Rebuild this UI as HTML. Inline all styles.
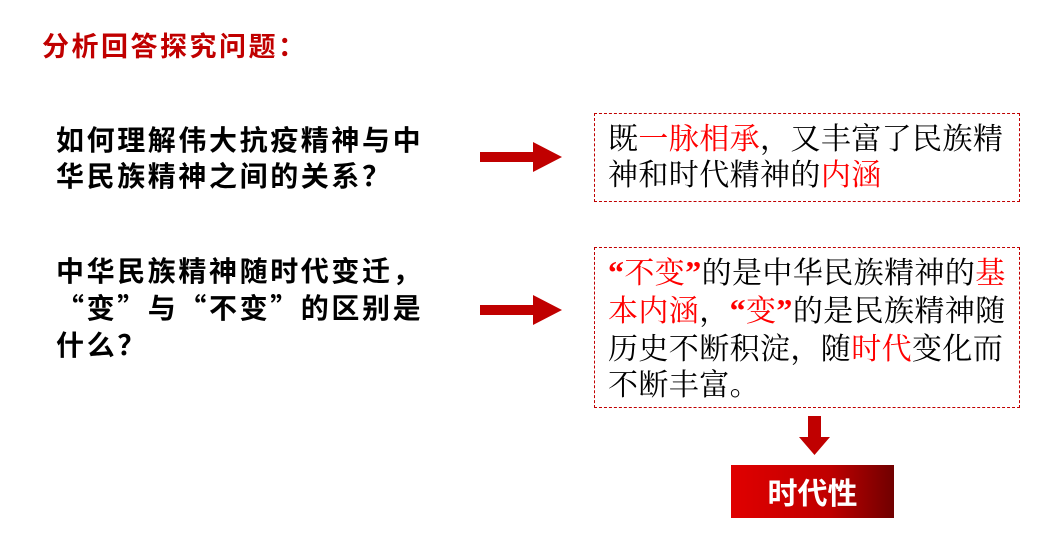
<!DOCTYPE html>
<html><head><meta charset="utf-8"><style>
body{margin:0;width:1043px;height:536px;background:#fff;position:relative;overflow:hidden}
.a{position:absolute;white-space:nowrap}
.t{font-family:"Noto Sans CJK SC",sans-serif;font-weight:bold}
.q{font-family:"Noto Sans CJK SC",sans-serif;font-weight:bold;font-size:28px;letter-spacing:2.6px;line-height:36px;color:#000;left:56px}
.box{border:1px dashed #c00000;font-family:"Noto Serif CJK SC","WenQuanYi Zen Hei",serif;font-size:30px;letter-spacing:0.4px;line-height:36px;color:#000;left:594px;width:411px;padding:4px 0 0 13px}
.r{color:#f00}
.b{color:#f00;font-weight:bold;font-family:"Liberation Serif",serif;font-size:32px}
</style></head><body>
<div class="a t" style="left:42px;top:25px;font-size:27px;letter-spacing:2.5px;color:#c00000">分析回答探究问题：</div>
<div class="a q" style="top:121px">如何理解伟大抗疫精神与中<br>华民族精神之间的关系？</div>
<div class="a q" style="top:252px;line-height:37px">中华民族精神随时代变迁，<br>“变”与“不变”的区别是<br>什么？</div>
<svg class="a" style="left:478px;top:140px" width="86" height="36"><polygon points="2,12 55,12 55,2 84,17 55,32 55,22 2,22" fill="#c00000"/></svg>
<svg class="a" style="left:478px;top:293px" width="86" height="36"><polygon points="2,12 55,12 55,2 84,17 55,32 55,22 2,22" fill="#c00000"/></svg>
<div class="a box" style="top:113px;height:83px">既<span class="r">一脉相承</span>，又丰富了民族精<br>神和时代精神的<span class="r">内涵</span></div>
<div class="a box" style="top:247px;height:155px"><span class="b">“</span><span class="r">不变</span><span class="b">”</span>的是中华民族精神的<span class="r">基</span><br><span class="r">本内涵</span>，<span class="b">“</span><span class="r">变</span><span class="b">”</span>的是民族精神随<br>历史不断积淀，随<span class="r">时代</span>变化而<br>不断丰富。</div>
<svg class="a" style="left:798px;top:415px" width="34" height="42"><polygon points="10,1 23,1 23,22 32,22 16.5,40 1,22 10,22" fill="#c00000"/></svg>
<div class="a t" style="left:731px;top:465px;width:163px;height:53px;background:linear-gradient(90deg,#e00000,#c00000 60%,#700000);color:#fff;font-size:30px;line-height:53px;text-align:center">时代性</div>
</body></html>
